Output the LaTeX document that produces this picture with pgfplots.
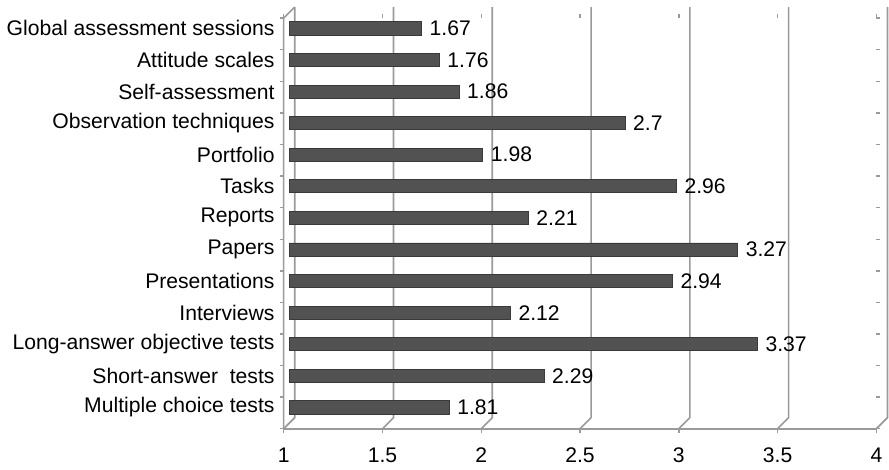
\documentclass[border=0pt]{standalone}
\usepackage{pgfplots}
\pgfplotsset{compat=1.18}
\usepackage{fontspec}
\setmainfont{Liberation Sans}
\definecolor{gridc}{HTML}{9A9A9A}
\definecolor{barfill}{HTML}{525252}
\definecolor{baredge}{HTML}{3A3A3A}
\begin{document}
\begin{tikzpicture}
\begin{axis}[
  scale only axis, width=294.5pt, height=204pt,
  xmin=1, xmax=4, ymin=-0.5, ymax=12.5,
  clip mode=individual,
  axis line style={draw=none},
  font=\fontsize{10.5}{12.5}\selectfont,
  /pgf/number format/assume math mode=true,
  xtick={1,1.5,2,2.5,3,3.5,4},
  xticklabels={1,1.5,2,2.5,3,3.5,4},
  xticklabel style={yshift=-4pt},
  ytick={0,...,12},
  yticklabels={Multiple choice tests,Short-answer\ \ tests,Long-answer objective tests,Interviews,Presentations,Papers,Reports,Tasks,Portfolio,Observation techniques,Self-assessment,Attitude scales,Global assessment sessions},
  yticklabel style={yshift=2.75pt, xshift=1pt},
  minor ytick={-0.5,0.5,...,12.5},
  tick align=outside,
  major tick length=2pt, minor tick length=2pt,
  x tick style={gridc, line width=0.7pt},
  major y tick style={draw=none},
  minor y tick style={gridc, line width=0.7pt},
]
% back wall gridlines with their slanted feet on the floor
\pgfplotsinvokeforeach{1,1.5,2,2.5,3,3.5,4}{
  \draw[gridc, line width=0.8pt] (axis cs:#1,-0.5) -- ++(5.5pt,5.5pt)
     -- ([shift={(5.5pt,5.5pt)}]axis cs:#1,12.5);
}
% front floor edge and left wall edge
\draw[gridc, line width=0.8pt] (axis cs:1,-0.5) -- (axis cs:4,-0.5);
\draw[gridc, line width=0.8pt] (axis cs:1,-0.5) -- (axis cs:1,12.5) -- ++(5.5pt,5.5pt);
% a little free space above the back wall
\path ([shift={(5.5pt,9pt)}]axis cs:1,12.5);

\addplot[xbar, bar width=6.5pt, xshift=2.75pt, yshift=2.75pt,
  fill=barfill, draw=baredge, line width=0.4pt,
  nodes near coords,
  every node near coord/.append style={font=\fontsize{10.5}{12.5}\selectfont, anchor=west, xshift=0.5pt, black},
] coordinates {
  (1.81,0) (2.29,1) (3.37,2) (2.12,3) (2.94,4) (3.27,5) (2.21,6)
  (2.96,7) (1.98,8) (2.7,9) (1.86,10) (1.76,11) (1.67,12)
};
\end{axis}
\end{tikzpicture}
\end{document}
